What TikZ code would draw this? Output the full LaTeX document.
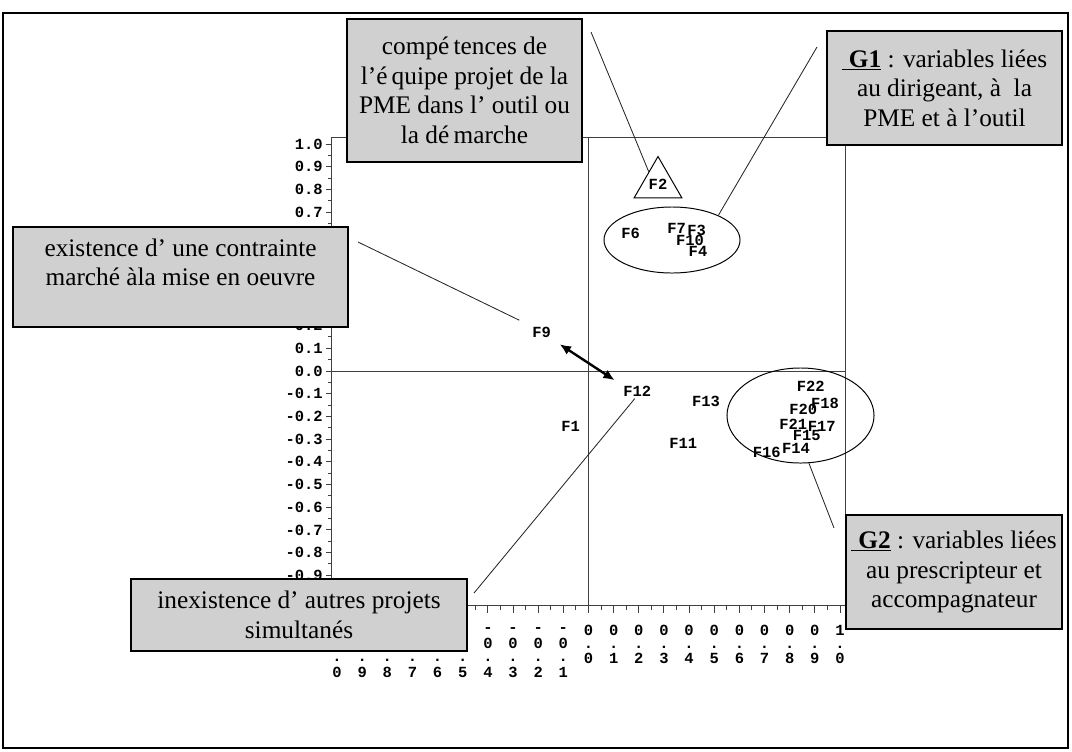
\documentclass[tikz,border=0pt]{standalone}
\usepackage{fontspec}
\setmainfont{Liberation Serif}
\newfontfamily\sasfont{Liberation Mono}
\usetikzlibrary{shapes.geometric,arrows.meta}
\definecolor{boxgray}{RGB}{208,208,208}
\tikzset{
  notebox/.style={draw, line width=0.9pt, fill=boxgray, align=center, inner sep=0pt,
    font=\fontsize{18}{21}\selectfont},
  fvar/.style={font=\sasfont\bfseries\fontsize{11}{13}\selectfont, inner sep=1pt},
  axl/.style={font=\sasfont\bfseries\fontsize{11}{13}\selectfont, inner sep=0pt},
  grp/.style={draw, ellipse, inner sep=0pt, line width=0.7pt},
  link/.style={line width=0.6pt, black!85},
  axisline/.style={line width=0.7pt, black!75},
}
\begin{document}
\begin{tikzpicture}[x=0.025cm,y=-0.025cm]
  \def\xo{588.5}  % x = 0
  \def\yo{371}    % y = 0
  \def\dx{25.15}  % 0.1 on x
  \def\dy{22.7}   % 0.1 on y
  \useasboundingbox (0,0) rectangle (1072,751);
  \draw[line width=1.1pt] (3,13) rectangle (1068,748);

  % plot frame and zero lines
  \draw[axisline] (331,137) rectangle (845,605);
  \draw[axisline] (331,\yo) -- (845,\yo);
  \draw[axisline] (\xo,137) -- (\xo,605);

  % ticks
  \foreach \i in {-10,...,10} {
    \draw[axisline] (331,{\yo-\dy*\i}) -- ++(-5,0);
    \draw[axisline] ({\xo+\dx*\i},605) -- ++(0,8);
  }
  \foreach \i in {-10,...,9} {
    \draw[axisline] (331,{\yo-\dy*(\i+0.5)}) -- ++(-3,0);
    \draw[axisline] ({\xo+\dx*(\i+0.5)},605) -- ++(0,5);
  }

  % y labels (the ones not under a box)
  \foreach \v/\t [count=\c] in {10/1.0,9/0.9,8/0.8,7/0.7,2/0.2,1/0.1,0/0.0,-1/-0.1,-2/-0.2,
      -3/-0.3,-4/-0.4,-5/-0.5,-6/-0.6,-7/-0.7,-8/-0.8,-9/-0.9}
    \node[axl, anchor=east] (yl\c) at (323,{\yo-\dy*\v}) {\t};

  % x labels, written downwards
  \foreach \d in {0,...,9} {
    \node[axl] (xa\d) at ({\xo+\dx*\d},630) {0};
    \node[axl] (xb\d) at ({\xo+\dx*\d},647) {.};
    \node[axl] (xc\d) at ({\xo+\dx*\d},658) {\d};
  }
  \node[axl] (xa10) at ({\xo+\dx*10},630) {1};
  \node[axl] (xb10) at ({\xo+\dx*10},647) {.};
  \node[axl] (xc10) at ({\xo+\dx*10},658) {0};
  \foreach \d in {1,...,4} {
    \node[axl] (na\d) at ({\xo-\dx*\d},630) {-};
    \node[axl] (nb\d) at ({\xo-\dx*\d},643) {0};
  }
  \foreach \d/\t in {1/1,2/2,3/3,4/4,5/5,6/6,7/7,8/8,9/9,10/0} {
    \node[axl] (nc\d) at ({\xo-\dx*\d},660) {.};
    \node[axl] (nd\d) at ({\xo-\dx*\d},672) {\t};
  }

  % variables
  \foreach \n/\px/\py in {F6/630.7/233.3, F7/676.7/228.3, F3/696.7/230.7, F10/690/240,
      F4/698/251.7, F9/541.7/332.7, F12/637.3/391.7, F13/706/401, F1/570.7/426,
      F11/683.3/443.3, F22/810.7/386.7, F18/825/403.3, F20/803.3/409.3,
      F21/793.3/424.3, F17/821.7/426, F15/806.7/435, F14/796/448.3, F16/766.7/452.7}
    \node[fvar] (\n) at (\px,\py) {\n};
  \node[fvar, draw, line width=0.7pt, regular polygon, regular polygon sides=3,
    minimum size=1.375cm, inner sep=0pt] (F2) at (658,184) {F2};

  \node[grp, minimum width=3.4cm, minimum height=1.65cm] (gone) at (672,240) {};
  \node[grp, minimum width=3.675cm, minimum height=2.375cm] (gtwo) at (800.5,415.5) {};

  \draw[line width=1.7pt, {Latex[length=8pt,width=7pt]}-{Latex[length=8pt,width=7pt]},
    shorten <=6pt, shorten >=6pt] (F9.south east) -- (F12.north west);

  % comments boxes
  \node[notebox, minimum width=5.875cm, minimum height=3.575cm] (comp) at (464.5,90.5)
    {compé\,tences de\\ l'é\,quipe projet de la\\ PME dans l' outil ou\\ la dé\,marche};
  \node[notebox, minimum width=5.875cm, minimum height=2.85cm] (gonebox) at (944.5,88)
    {\underline{\hspace{5pt}\textbf{G1}} : variables liées\\ au dirigeant, à\enspace la\\ PME et à l'outil};
  \node[notebox, minimum width=8.375cm, minimum height=2.5cm] (exist) at (180.5,277)
    {existence d' une contrainte\\ marché àla mise en oeuvre\\ \mbox{}};
  \node[notebox, minimum width=8.4cm, minimum height=1.8cm] (inexist) at (299,615)
    {inexistence d' autres projets\\ simultanés};
  \node[notebox, minimum width=5.4cm, minimum height=2.85cm] (gtwobox) at (954,572)
    {\underline{\hspace{5pt}\textbf{G2}} : variables liées\\ au prescripteur et\\ accompagnateur};

  \coordinate (c1) at (591,32);
  \coordinate (c2) at (817,47);
  \coordinate (c3) at (358,242);
  \coordinate (c4) at (474,593);
  \coordinate (c5) at (834,528);
  \draw[link] (c1) -- (F2.127);
  \draw[link] (c2) -- (gone.28);
  \draw[link, shorten >=9pt] (c3) -- (F9.north west);
  \draw[link] (c4) -- (F12.250);
  \draw[link] (gtwo.-80) -- (c5);
\end{tikzpicture}
\end{document}
